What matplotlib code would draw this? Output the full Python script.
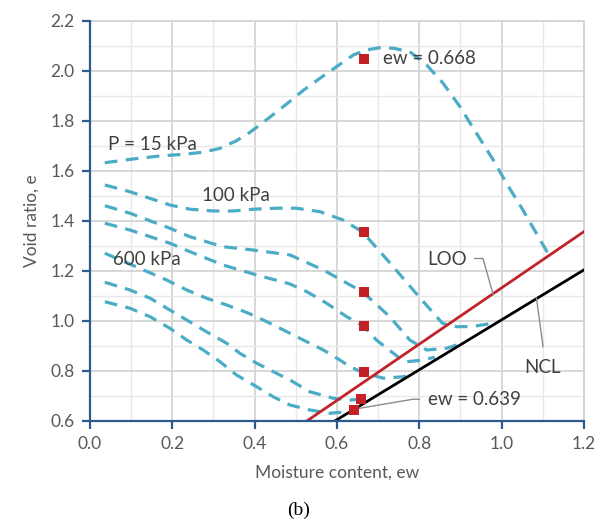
import matplotlib
matplotlib.use("Agg")
import matplotlib.pyplot as plt
from matplotlib.ticker import MultipleLocator

plt.rcParams['font.family'] = ['Lato', 'DejaVu Sans']

# ---- data ----
c15_x = [0.036, 0.105, 0.17, 0.23, 0.275, 0.315, 0.355, 0.389, 0.429, 0.478, 0.518, 0.559, 0.599,
         0.64, 0.672, 0.704, 0.737, 0.777, 0.818, 0.858, 0.899, 0.939, 0.98, 1.012, 1.052, 1.113]
c15_y = [1.633, 1.648, 1.66, 1.667, 1.675, 1.69, 1.72, 1.755, 1.805, 1.868, 1.922, 1.971, 2.017,
         2.064, 2.084, 2.093, 2.091, 2.077, 2.024, 1.951, 1.857, 1.751, 1.644, 1.551, 1.444, 1.27]

c100_x = [0.036, 0.097, 0.194, 0.243, 0.30, 0.348, 0.397, 0.454, 0.502, 0.559, 0.615, 0.663,
          0.729, 0.80, 0.857, 0.89, 0.93, 0.975]
c100_y = [1.544, 1.517, 1.464, 1.447, 1.44, 1.44, 1.447, 1.451, 1.451, 1.437, 1.404, 1.355,
          1.232, 1.096, 0.99, 0.977, 0.978, 0.99]

c3_x = [0.036, 0.097, 0.194, 0.243, 0.323, 0.396, 0.486, 0.567, 0.632, 0.663, 0.729, 0.777,
        0.818, 0.867, 0.891]
c3_y = [1.461, 1.431, 1.371, 1.337, 1.297, 1.284, 1.264, 1.204, 1.144, 1.116, 1.016, 0.924,
        0.884, 0.891, 0.904]

c4_x = [0.036, 0.097, 0.194, 0.243, 0.323, 0.405, 0.486, 0.527, 0.575, 0.624, 0.664, 0.696,
        0.737, 0.765, 0.80, 0.838]
c4_y = [1.391, 1.364, 1.311, 1.277, 1.224, 1.184, 1.148, 1.117, 1.071, 1.017, 0.98, 0.924,
        0.871, 0.836, 0.842, 0.855]

c5_x = [0.036, 0.186, 0.235, 0.283, 0.332, 0.381, 0.421, 0.470, 0.518, 0.567, 0.607, 0.632,
        0.664, 0.713, 0.761, 0.78]
c5_y = [1.271, 1.164, 1.124, 1.091, 1.064, 1.034, 1.004, 0.964, 0.924, 0.884, 0.844, 0.817,
        0.793, 0.771, 0.777, 0.782]

c6_x = [0.036, 0.097, 0.146, 0.194, 0.235, 0.283, 0.332, 0.364, 0.405, 0.453, 0.486, 0.534,
        0.591, 0.632, 0.66]
c6_y = [1.155, 1.124, 1.091, 1.044, 1.004, 0.957, 0.911, 0.871, 0.831, 0.791, 0.764, 0.717,
        0.691, 0.684, 0.687]

c7_x = [0.036, 0.097, 0.146, 0.194, 0.235, 0.275, 0.316, 0.356, 0.405, 0.445, 0.486, 0.534,
        0.583, 0.624, 0.643]
c7_y = [1.077, 1.051, 1.017, 0.971, 0.924, 0.884, 0.837, 0.784, 0.737, 0.697, 0.664, 0.644,
        0.631, 0.637, 0.645]

sq_x = [0.666, 0.666, 0.666, 0.666, 0.666, 0.658, 0.641]
sq_y = [2.048, 1.357, 1.117, 0.98, 0.794, 0.688, 0.643]

loo_x = [0.527, 1.2]
loo_y = [0.6, 1.357]
ncl_x = [0.595, 1.2]
ncl_y = [0.6, 1.204]

x_ticks = [0.0, 0.2, 0.4, 0.6, 0.8, 1.0, 1.2]
y_ticks = [0.6, 0.8, 1.0, 1.2, 1.4, 1.6, 1.8, 2.0, 2.2]

# ---- figure ----
fig = plt.figure(figsize=(6.0, 5.24), dpi=100)
ax = fig.add_axes([0.15, 0.1966, 0.823, 0.7634])

ax.set_xlim(0, 1.2)
ax.set_ylim(0.6, 2.2)
ax.set_xticks(x_ticks)
ax.set_yticks(y_ticks)
ax.xaxis.set_minor_locator(MultipleLocator(0.1))
ax.yaxis.set_minor_locator(MultipleLocator(0.1))
ax.set_xticklabels([f"{v:.1f}" for v in x_ticks])
ax.set_yticklabels([f"{v:.1f}" for v in y_ticks])

ax.grid(which='major', color='#d4d4d4', lw=1.3, zorder=0)
ax.grid(which='minor', color='#e8e8e8', lw=1.0, zorder=0)
ax.set_axisbelow(True)

spine_c = '#2c5a8c'
for s in ['top', 'right']:
    ax.spines[s].set_color('#d4d4d4')
    ax.spines[s].set_linewidth(1.3)
for s in ['left', 'bottom']:
    ax.spines[s].set_color(spine_c)
    ax.spines[s].set_linewidth(1.6)
    ax.spines[s].set_zorder(5)
ax.tick_params(which='major', direction='out', length=6, width=1.6, color=spine_c,
               labelsize=12.5, labelcolor='#595959', pad=5)
ax.tick_params(which='minor', length=0)

teal = '#4bacc6'
for xs, ys in [(c15_x, c15_y), (c100_x, c100_y), (c3_x, c3_y), (c4_x, c4_y),
               (c5_x, c5_y), (c6_x, c6_y), (c7_x, c7_y)]:
    ax.plot(xs, ys, color=teal, lw=2.3, dashes=(4, 2.6), solid_capstyle='butt',
            dash_capstyle='butt', zorder=3)

ax.plot(loo_x, loo_y, color='#c0232a', lw=2.0, zorder=4, clip_on=True)
ax.plot(ncl_x, ncl_y, color='black', lw=2.0, zorder=4, clip_on=True)

ax.scatter(sq_x, sq_y, marker='s', s=60, color='#c42127', zorder=6, linewidths=0)

# leader lines
ax.plot([0.935, 0.955, 0.98], [1.25, 1.25, 1.104], color='#8c8c8c', lw=1.0, zorder=5)
ax.plot([1.085, 1.101], [1.091, 0.897], color='#8c8c8c', lw=1.0, zorder=5)
ax.plot([0.645, 0.785, 0.80], [0.648, 0.687, 0.687], color='#8c8c8c', lw=1.0, zorder=5)

tc = '#404040'
fs = 13.5
ax.text(0.712, 2.048, "ew = 0.668", fontsize=fs, color=tc, va='center', ha='left')
ax.text(0.044, 1.704, "P = 15 kPa", fontsize=fs, color=tc, va='center', ha='left')
ax.text(0.271, 1.50, "100 kPa", fontsize=fs, color=tc, va='center', ha='left')
ax.text(0.056, 1.244, "600 kPa", fontsize=fs, color=tc, va='center', ha='left')
ax.text(0.82, 1.244, "LOO", fontsize=fs, color=tc, va='center', ha='left')
ax.text(1.10, 0.812, "NCL", fontsize=fs, color=tc, va='center', ha='center')
ax.text(0.821, 0.686, "ew = 0.639", fontsize=fs, color=tc, va='center', ha='left')

ax.set_xlabel("Moisture content, ew", fontsize=12.5, color='#595959', labelpad=9)
ax.set_ylabel("Void ratio, e", fontsize=12.5, color='#595959', labelpad=8)

fig.text(0.497, 0.027, "(b)", fontsize=14, family=['Liberation Serif', 'DejaVu Serif'],
         ha='center', va='center', color='black')

fig.savefig("out.png", dpi=100)
